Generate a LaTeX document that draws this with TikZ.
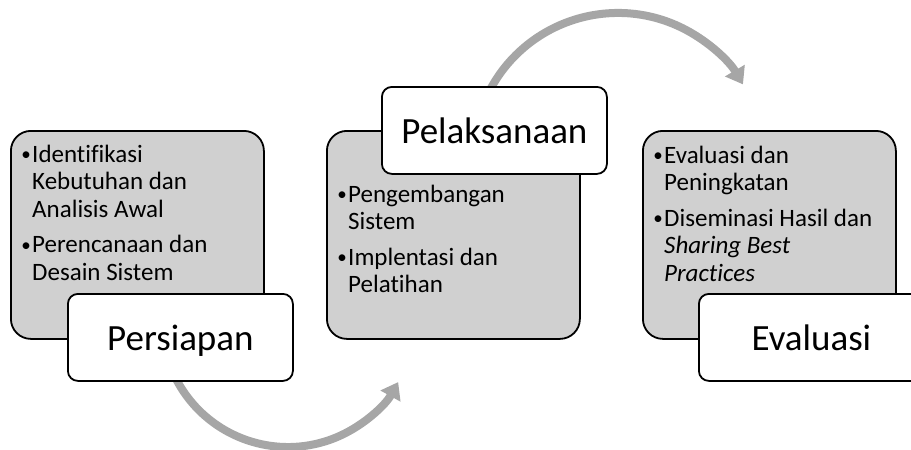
\documentclass[tikz,border=0pt]{standalone}
\usepackage{fontspec}
\setmainfont{Carlito}[Ligatures=NoCommon]
\usetikzlibrary{arrows.meta}
\definecolor{boxgray}{RGB}{208,208,208}
\definecolor{arcgray}{RGB}{166,166,166}
\newcommand{\bul}{\makebox[12pt][c]{\raisebox{1.5pt}{\fontsize{19}{19}\selectfont •}}}
\newcommand{\ind}{\hspace*{12pt}}
\begin{document}
\begin{tikzpicture}[x=1pt,y=-1pt,
  graybox/.style={draw=black, line width=1.8pt, fill=boxgray, rounded corners=20pt,
    minimum width=253pt, minimum height=208pt, anchor=north west, inner sep=0pt},
  titlebox/.style={draw=black, line width=1.8pt, fill=white, rounded corners=10pt,
    minimum width=225pt, minimum height=87pt, anchor=north west, inner sep=0pt,
    font=\fontsize{37}{44}\selectfont, text height=32pt, text depth=5pt},
  bodytext/.style={anchor=base west, inner sep=0pt,
    font=\fontsize{25}{27.5}\selectfont},
  arcarrow/.style={draw=arcgray, line width=8pt, -{Triangle[length=16pt,width=22pt]}}]
\useasboundingbox (0,0) rectangle (911,450);
\clip (0,0) rectangle (911,450);
% arcs
\coordinate (a1s) at (175.7,378.2);
\coordinate (a2s) at (490,89.9);
\draw[arcarrow] (a1s) arc[start angle=153, end angle=29, radius=126];
\draw[arcarrow] (a2s) arc[start angle=-152, end angle=-30.5, radius=145];
% gray boxes
\node[graybox] (g1) at (10,130) {};
\node[graybox] (g2) at (326,130) {};
\node[graybox] (g3) at (642,130) {};
% title boxes
\node[titlebox] (t1) at (67,293) {Persiapan};
\node[titlebox] (t2) at (381,86) {Pelaksanaan};
\node[titlebox] (t3) at (698,293) {Evaluasi};
% body texts
\node[bodytext] (b1) at (20,162) {\begin{tabular}[t]{@{}l@{}}
  \bul Identifikasi\\
  \ind Kebutuhan dan\\
  \ind Analisis Awal\\[8pt]
  \bul Perencanaan dan\\
  \ind Desain Sistem
  \end{tabular}};
\node[bodytext] (b2) at (336,202) {\begin{tabular}[t]{@{}l@{}}
  \bul Pengembangan\\
  \ind Sistem\\[8pt]
  \bul Implentasi dan\\
  \ind Pelatihan
  \end{tabular}};
\node[bodytext] (b3) at (652,163) {\begin{tabular}[t]{@{}l@{}}
  \bul Evaluasi dan\\
  \ind Peningkatan\\[8pt]
  \bul Diseminasi Hasil dan\\
  \ind \textit{Sharing Best}\\
  \ind \textit{Practices}
  \end{tabular}};
\end{tikzpicture}
\end{document}
